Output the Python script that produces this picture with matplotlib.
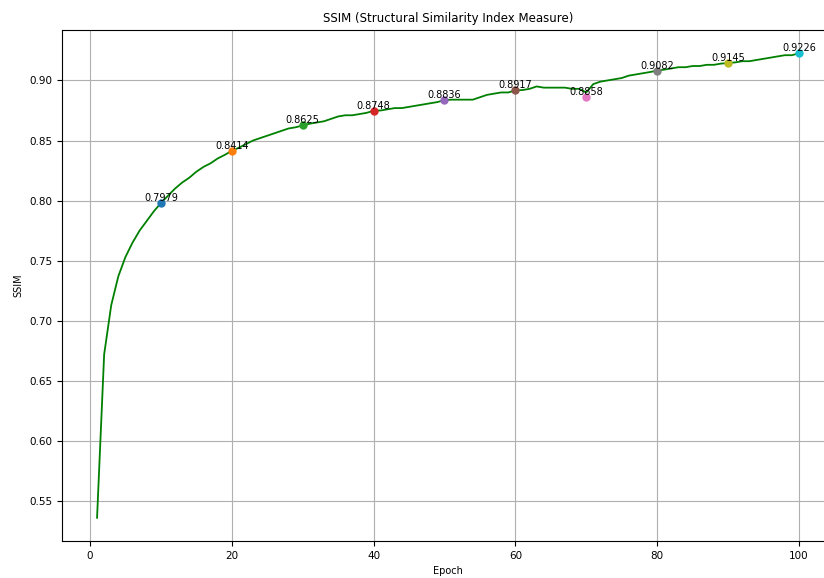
import matplotlib
matplotlib.use("Agg")
import matplotlib.pyplot as plt
import numpy as np

epochs = list(range(1, 101))
ssim = [
    0.536, 0.672, 0.713, 0.737, 0.753, 0.765, 0.775, 0.783, 0.791, 0.7979,
    0.804, 0.810, 0.815, 0.819, 0.824, 0.828, 0.831, 0.835, 0.838, 0.8414,
    0.844, 0.847, 0.850, 0.852, 0.854, 0.856, 0.858, 0.860, 0.861, 0.8625,
    0.864, 0.865, 0.866, 0.868, 0.870, 0.871, 0.871, 0.872, 0.873, 0.8748,
    0.875, 0.876, 0.877, 0.877, 0.878, 0.879, 0.880, 0.881, 0.882, 0.8836,
    0.884, 0.884, 0.884, 0.884, 0.886, 0.888, 0.889, 0.890, 0.890, 0.8917,
    0.892, 0.893, 0.895, 0.894, 0.894, 0.894, 0.894, 0.893, 0.893, 0.8900,
    0.897, 0.899, 0.900, 0.901, 0.902, 0.904, 0.905, 0.906, 0.907, 0.9082,
    0.909, 0.910, 0.911, 0.911, 0.912, 0.912, 0.913, 0.913, 0.914, 0.9145,
    0.915, 0.916, 0.916, 0.917, 0.918, 0.919, 0.920, 0.921, 0.921, 0.9226,
]
marker_epochs = [10, 20, 30, 40, 50, 60, 70, 80, 90, 100]
marker_values = [0.7979, 0.8414, 0.8625, 0.8748, 0.8836, 0.8917, 0.8858, 0.9082, 0.9145, 0.9226]

fig = plt.figure(figsize=(8.24, 5.78), dpi=100)
ax = fig.add_axes([0.0752, 0.064, 0.937, 0.884])
ax.plot(epochs, ssim, color='green', linewidth=1.3)
for i, (e, v) in enumerate(zip(marker_epochs, marker_values)):
    ax.plot(e, v, 'o', color=f'C{i}', markersize=5)
    ax.text(e, v, f'{v:.4f}', ha='center', va='bottom', fontsize=7)

ax.set_title('SSIM (Structural Similarity Index Measure)', fontsize=8.5)
ax.set_xlabel('Epoch', fontsize=7)
ax.set_ylabel('SSIM', fontsize=7)
ax.tick_params(labelsize=7.5)
ax.grid(True)
fig.savefig('out.png', dpi=100)
